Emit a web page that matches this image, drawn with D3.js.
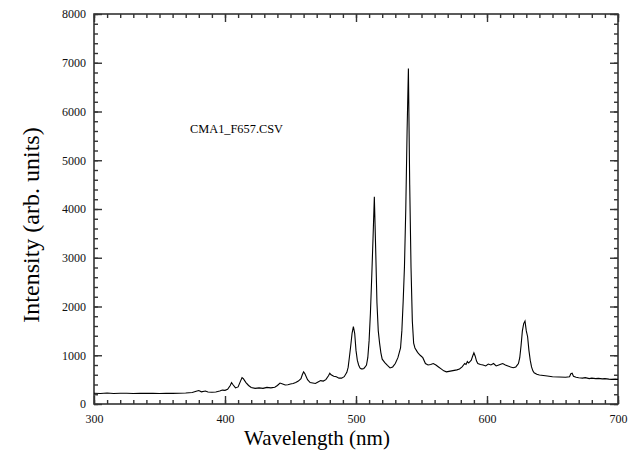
<!DOCTYPE html>
<html>
<head>
<meta charset="utf-8">
<script src="https://cdn.jsdelivr.net/npm/d3@7"></script>
</head>
<body style="margin:0; background:#fff">
<svg width="637" height="455" font-family="Times New Roman"></svg>
<script>
// wavelength (nm) and intensity
const wavelength = [300, 305, 310, 315, 320, 325, 330, 335, 340, 345, 350, 355, 360, 365, 370, 375, 378, 380, 382, 385, 387, 390, 393, 396, 398, 400, 402, 404, 405, 406, 408, 410, 412, 413, 414, 416, 418, 420, 423, 426, 429, 432, 435, 438, 440, 442, 444, 446, 448, 450, 452, 454, 456, 458, 459, 460, 461, 463, 465, 467, 469, 471, 473, 475, 477, 479, 480, 481, 483, 485, 487, 489, 491, 493, 494, 495, 496, 497, 498, 499, 500, 501, 502, 503, 504, 505, 506, 507, 508, 509, 510, 511, 512, 513, 514, 515, 516, 517, 518, 519, 520, 522, 524, 526, 528, 530, 532, 534, 535, 536, 537, 538, 539, 540, 541, 542, 543, 544, 545, 547, 549, 551, 553, 555, 557, 559, 561, 563, 565, 567, 569, 571, 573, 575, 577, 579, 581, 583, 584, 585, 586, 588, 589, 590, 591, 592, 593, 595, 597, 599, 601, 603, 605, 607, 609, 611, 612, 614, 616, 618, 620, 622, 624, 625, 626, 627, 628, 629, 630, 631, 632, 633, 634, 635, 636, 638, 640, 643, 646, 650, 655, 660, 663, 664, 665, 666, 668, 670, 673, 675, 678, 680, 683, 685, 688, 690, 693, 695, 698, 700];
const intensity = [220, 215, 225, 215, 220, 220, 215, 222, 218, 220, 215, 222, 218, 222, 225, 235, 260, 275, 250, 265, 245, 240, 245, 265, 285, 280, 300, 380, 440, 400, 330, 350, 480, 540, 520, 440, 380, 340, 320, 330, 320, 340, 330, 345, 380, 430, 410, 390, 395, 410, 420, 440, 470, 520, 600, 660, 620, 500, 440, 430, 420, 450, 480, 470, 500, 580, 630, 600, 570, 560, 530, 530, 560, 650, 750, 970, 1200, 1450, 1590, 1450, 1100, 900, 800, 740, 720, 720, 730, 760, 800, 950, 1300, 1860, 2600, 3400, 4250, 3200, 2070, 1500, 1250, 1050, 920, 850, 790, 740, 760, 830, 950, 1150, 1500, 2100, 2820, 4000, 5600, 6880, 4500, 2800, 1700, 1250, 1150, 1060, 1000, 950, 830, 800, 810, 830, 800, 760, 720, 680, 660, 670, 680, 690, 700, 720, 760, 830, 810, 870, 840, 900, 980, 1050, 980, 880, 830, 810, 800, 780, 820, 800, 830, 780, 800, 820, 830, 800, 780, 760, 745, 760, 830, 950, 1200, 1500, 1650, 1700, 1500, 1380, 1100, 900, 760, 680, 640, 610, 595, 585, 575, 560, 555, 550, 560, 620, 630, 570, 550, 540, 530, 540, 520, 530, 520, 525, 515, 520, 510, 505, 510, 505];

const xMajor = [300, 400, 500, 600, 700];
const yMajor = [0, 1000, 2000, 3000, 4000, 5000, 6000, 7000, 8000];
const fileLabel = "CMA1_F657.CSV";

const serif = "Times New Roman";

const svg = d3.select("svg");
const plotLeft = 94, plotRight = 618, plotTop = 14, plotBottom = 404;

const x = d3.scaleLinear().domain([300, 700]).range([plotLeft, plotRight]);
const y = d3.scaleLinear().domain([0, 8000]).range([plotBottom, plotTop]);

const axisColor = "#333";

function styleAxis(g) {
    g.attr("font-family", serif);
    g.select(".domain").remove();
    g.selectAll("line").attr("stroke", axisColor).attr("stroke-width", 1.4);
    g.selectAll("text").attr("fill", "#111").attr("font-size", "12px")
        .attr("font-family", serif);
}

// minor ticks (every 10 nm / 200 units)
svg.append("g").attr("transform", `translate(0,${plotBottom})`)
    .call(d3.axisBottom(x).tickValues(d3.range(300, 701, 10)).tickSize(-4).tickFormat(""))
    .call(styleAxis);
svg.append("g").attr("transform", `translate(0,${plotTop})`)
    .call(d3.axisTop(x).tickValues(d3.range(300, 701, 10)).tickSize(-4).tickFormat(""))
    .call(styleAxis);
svg.append("g").attr("transform", `translate(${plotLeft},0)`)
    .call(d3.axisLeft(y).tickValues(d3.range(0, 8001, 200)).tickSize(-4).tickFormat(""))
    .call(styleAxis);
svg.append("g").attr("transform", `translate(${plotRight},0)`)
    .call(d3.axisRight(y).tickValues(d3.range(0, 8001, 200)).tickSize(-4).tickFormat(""))
    .call(styleAxis);

// major ticks with labels
svg.append("g").attr("transform", `translate(0,${plotBottom})`)
    .call(d3.axisBottom(x).tickValues(xMajor).tickSize(-8).tickPadding(10).tickFormat(d3.format("d")))
    .call(styleAxis);
svg.append("g").attr("transform", `translate(0,${plotTop})`)
    .call(d3.axisTop(x).tickValues(xMajor).tickSize(-8).tickFormat(""))
    .call(styleAxis);
svg.append("g").attr("transform", `translate(${plotLeft},0)`)
    .call(d3.axisLeft(y).tickValues(yMajor).tickSize(-8).tickPadding(8).tickFormat(d3.format("d")))
    .call(styleAxis);
svg.append("g").attr("transform", `translate(${plotRight},0)`)
    .call(d3.axisRight(y).tickValues(yMajor).tickSize(-8).tickFormat(""))
    .call(styleAxis);

// frame
svg.append("rect")
    .attr("x", plotLeft).attr("y", plotTop)
    .attr("width", plotRight - plotLeft).attr("height", plotBottom - plotTop)
    .attr("fill", "none").attr("stroke", axisColor).attr("stroke-width", 1.6);

// spectrum
const line = d3.line()
    .x((d, i) => x(wavelength[i]))
    .y(d => y(d));

svg.append("path")
    .datum(intensity)
    .attr("fill", "none")
    .attr("stroke", "#000")
    .attr("stroke-width", 1.1)
    .attr("d", line);

// file name annotation
svg.append("text")
    .attr("x", 190).attr("y", 133)
    .attr("font-size", "12px")
    .attr("font-family", serif)
    .attr("textLength", 93)
    .attr("lengthAdjust", "spacingAndGlyphs")
    .text(fileLabel);

// axis titles
svg.append("text")
    .attr("x", 317).attr("y", 445)
    .attr("text-anchor", "middle")
    .attr("font-size", "21px")
    .attr("font-family", serif)
    .text("Wavelength (nm)");

svg.append("text")
    .attr("transform", "translate(39,225) rotate(-90)")
    .attr("text-anchor", "middle")
    .attr("font-size", "24px")
    .attr("font-family", serif)
    .text("Intensity (arb. units)");
</script>
</body>
</html>
